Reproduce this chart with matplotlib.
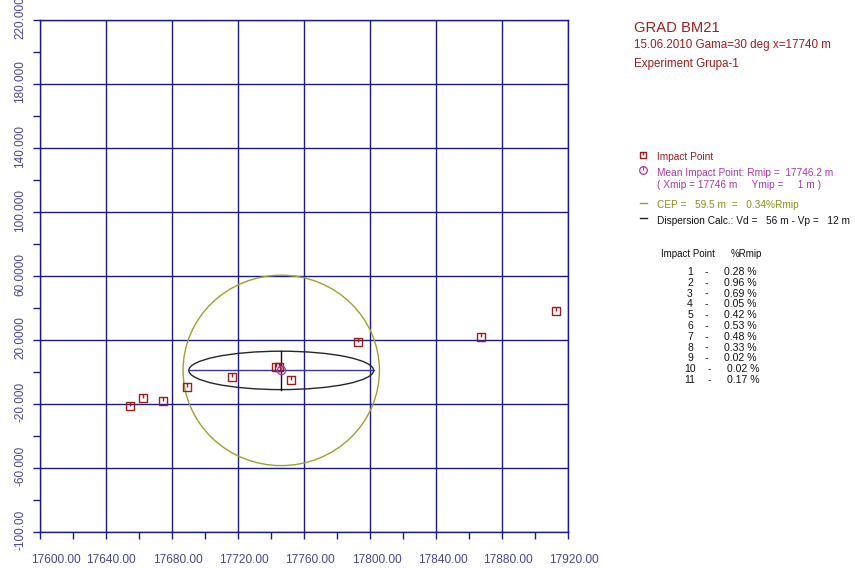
import numpy as np
import matplotlib
matplotlib.use("Agg")
import matplotlib.pyplot as plt
from matplotlib.path import Path
from matplotlib.patches import Circle, Ellipse
from matplotlib.ticker import MultipleLocator
from matplotlib.transforms import ScaledTranslation

plt.rcParams['font.family'] = ['Liberation Sans', 'DejaVu Sans']

# Impact points (range x, lateral y), in firing order
impact_x = [17792.5, 17912.6, 17867.0, 17752.0, 17674.5, 17654.8,
            17662.5, 17689.0, 17743.0, 17744.7, 17716.4]
impact_y = [18.9, 37.9, 21.7, -5.0, -18.1, -21.1,
            -16.3, -9.2, 2.9, 2.9, -3.1]
impact_pct = [0.28, 0.96, 0.69, 0.05, 0.42, 0.53, 0.48, 0.33, 0.02, 0.02, 0.17]

# Mean impact point and dispersion figures
rmip = 17746.2
xmip = 17746
ymip = 1
cep = 59.5
cep_pct = 0.34
vd = 56
vp = 12

x_ticks = [17600, 17640, 17680, 17720, 17760, 17800, 17840, 17880, 17920]
x_tick_labels = ["17600.00", "17640.00", "17680.00", "17720.00", "17760.00",
                 "17800.00", "17840.00", "17880.00", "17920.00"]
y_ticks = [-100, -60, -20, 20, 60, 100, 140, 180, 220]
y_tick_labels = ["-100.00", "-60.000", "-20.000", "20.0000", "60.0000",
                 "100.000", "140.000", "180.000", "220.000"]

NAVY = '#1a1a8e'
TICK_TXT = '#45459a'
RED = '#a01c1c'
PURPLE = '#a838a8'
OLIVE = '#a0a02c'
OLIVE_TXT = '#8c8c14'

W, H = 855, 568
fig = plt.figure(figsize=(W / 100, H / 100), dpi=100)
ax = fig.add_axes([40 / W, 1 - 532 / H, 528 / W, 512 / H])
ax.set_xlim(17600, 17920)
ax.set_ylim(-100, 220)

ax.set_xticks(x_ticks, x_tick_labels)
ax.set_yticks(y_ticks, y_tick_labels)
ax.xaxis.set_minor_locator(MultipleLocator(20))
ax.yaxis.set_minor_locator(MultipleLocator(20))
ax.tick_params(which='both', direction='out', length=5, width=1, color=NAVY)
ax.tick_params(axis='x', which='major', pad=11, labelsize=8.6, labelcolor=TICK_TXT)
ax.tick_params(axis='y', which='major', pad=5.0, labelsize=8.5, labelcolor=TICK_TXT)
for lab in ax.get_yticklabels():
    lab.set_rotation(90)
    lab.set_va('center')
    lab.set_transform(lab.get_transform() + ScaledTranslation(0, 2 / 100, fig.dpi_scale_trans))
x_label_shift = [16, 5, 6, 5.5, 6, 7, 7, 6, 6]
for lab, dx in zip(ax.get_xticklabels(), x_label_shift):
    lab.set_transform(lab.get_transform() + ScaledTranslation(dx / 100, 0, fig.dpi_scale_trans))

for sp in ax.spines.values():
    sp.set_color(NAVY)
    sp.set_linewidth(1.0)
ax.grid(True, which='major', color=NAVY, linewidth=1.0)
ax.set_axisbelow(True)

# Markers: square with a notch for impacts, circle with a hand for the MIP
sq_marker = Path([(-1, -1), (1, -1), (1, 1), (-1, 1), (-1, -1), (0, 1), (0, 0.1)],
                 [Path.MOVETO, Path.LINETO, Path.LINETO, Path.LINETO, Path.CLOSEPOLY,
                  Path.MOVETO, Path.LINETO])
mip_marker = Path.make_compound_path(
    Path.unit_circle(), Path([(0, 0), (0, 1)], [Path.MOVETO, Path.LINETO]))

# CEP circle and dispersion ellipse around the mean impact point
ax.add_patch(Circle((rmip, ymip), cep, fill=False, edgecolor=OLIVE, linewidth=1.0, zorder=3))
ax.add_patch(Ellipse((rmip, ymip), 2 * vd, 2 * vp, fill=False,
                     edgecolor='#262626', linewidth=1.0, zorder=3))
ax.plot([rmip - vd, rmip + vd], [ymip, ymip], color='#3434b4', linewidth=1.0, zorder=3)
ax.plot([rmip, rmip], [ymip - vp, ymip + vp], color='#111111', linewidth=1.0, zorder=3)

ax.plot(impact_x, impact_y, linestyle='none', marker=sq_marker, markersize=5.2,
        markerfacecolor='none', markeredgecolor=RED, markeredgewidth=1.0, zorder=4)
ax.plot([rmip], [ymip], linestyle='none', marker=mip_marker, markersize=6,
        markerfacecolor='none', markeredgecolor=PURPLE, markeredgewidth=0.9, zorder=5)

# Side panel in pixel coordinates
side = fig.add_axes([0, 0, 1, 1])
side.set_xlim(0, W)
side.set_ylim(H, 0)
side.axis('off')


def label(x, y, s, size, color, ha='left'):
    side.text(x, y, s, fontsize=size, color=color, ha=ha, va='center')


label(634, 27.5, "GRAD BM21", 10.6, RED)
label(634, 45, "15.06.2010 Gama=30 deg x=17740 m", 8.4, RED)
label(634, 63.5, "Experiment Grupa-1", 8.4, RED)

side.plot([643], [154.5], marker=sq_marker, markersize=4.6, markerfacecolor='none',
          markeredgecolor=RED, markeredgewidth=1.0, linestyle='none')
label(657, 157, "Impact Point", 7.3, RED)
side.plot([643], [170], marker=mip_marker, markersize=5.5, markerfacecolor='none',
          markeredgecolor=PURPLE, markeredgewidth=0.9, linestyle='none')
label(657, 173.5, f"Mean Impact Point: Rmip =  {rmip:.1f} m", 7.3, PURPLE)
label(657, 184.5, f"( Xmip = {xmip} m     Ymip =     {ymip} m )", 7.3, PURPLE)
side.plot([640, 647], [202.5, 202.5], color=OLIVE, linewidth=1.0)
label(657, 205, f"CEP =   {cep:.1f} m  =   {cep_pct:.2f}%Rmip", 7.3, OLIVE_TXT)
side.plot([640, 647], [217.5, 217.5], color='#222222', linewidth=1.0)
label(657, 221.5, f"Dispersion Calc.: Vd =   {vd} m - Vp =   {vp} m", 7.3, '#111111')

label(661, 254, "Impact Point", 7.0, '#111111')
label(731, 254, "%Rmip", 7.0, '#111111')
for i, pct in enumerate(impact_pct):
    n = i + 1
    y = 272 + i * 10.8
    shift = 2.5 if n >= 10 else 0
    label(690, y, str(n), 7.5, '#111111', ha='center')
    label(705 + shift, y, "-", 7.5, '#111111')
    label(724 + shift, y, f"{pct:.2f} %", 7.6, '#111111')

fig.savefig("out.png", dpi=100)
